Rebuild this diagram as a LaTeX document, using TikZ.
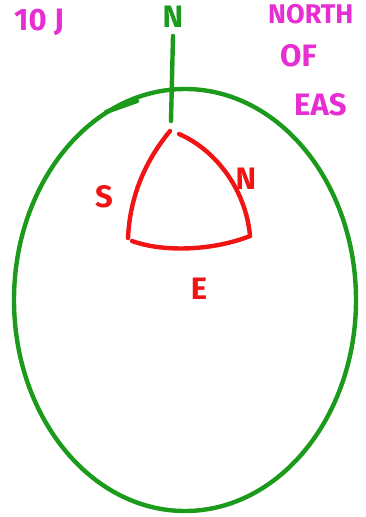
\documentclass[tikz,border=0pt]{standalone}
\usepackage{fontspec}
\setsansfont{Fira Sans}
\usetikzlibrary{positioning}
\definecolor{penpink}{HTML}{E62ED2}
\definecolor{pengreen}{HTML}{1C9A1C}
\definecolor{penred}{HTML}{F01414}

\begin{document}
\begin{tikzpicture}[x=1pt, y=-1pt,
		every node/.style={font=\sffamily\bfseries},
		greenline/.style={draw=pengreen, line width=4.4pt, line cap=round, line join=round},
		redline/.style={draw=penred, line width=4.4pt, line cap=round},
		note/.style={penpink, font=\sffamily\bfseries\fontsize{31}{32}\selectfont, anchor=west, inner sep=0pt},
		pole/.style={font=\sffamily\bfseries\fontsize{31}{31}\selectfont, inner sep=0pt},
		]
		\useasboundingbox (0,0) rectangle (365,517);

		% side notes
		\node[note] (ten) at (14,22) {10 J};
		\node[note, font=\sffamily\bfseries\fontsize{27}{28}\selectfont] (north) at (268,14) {NORTH};
		\node[note] (of) at (280,56) {OF};
		\node[note] (east) at (294,105) {EAS};

		% sphere
		\draw[greenline] (185,300) ellipse [x radius=171, y radius=211];
		\coordinate (tickA) at (106,112);
		\coordinate (tickB) at (137,101);
		\draw[greenline] (tickA) -- (tickB);

		% pole
		\node[pole, pengreen] (pN) at (173,17) {N};
		\coordinate (axis) at (171,121);
		\draw[greenline] ([yshift=-8pt]pN.south) -- (axis);

		% triangle
		\coordinate (tL) at (170,131);
		\coordinate (tR) at (179,134);
		\coordinate (bL) at (128,238);
		\coordinate (bL2) at (132,241);
		\coordinate (bR) at (250,236);
		\draw[redline] (tL) .. controls (146,160) and (130,195) .. (bL);
		\draw[redline] (tR) .. controls (216,150) and (246,190) .. (bR);
		\draw[redline] (bL2) .. controls (165,253) and (215,250) .. (bR);

		% side labels
		\node[pole, penred] (sS) at (104,197) {S};
		\node[pole, penred] (sN) at (246,179) {N};
		\node[pole, penred] (sE) at (199,289) {E};
	\end{tikzpicture}
\end{document}
